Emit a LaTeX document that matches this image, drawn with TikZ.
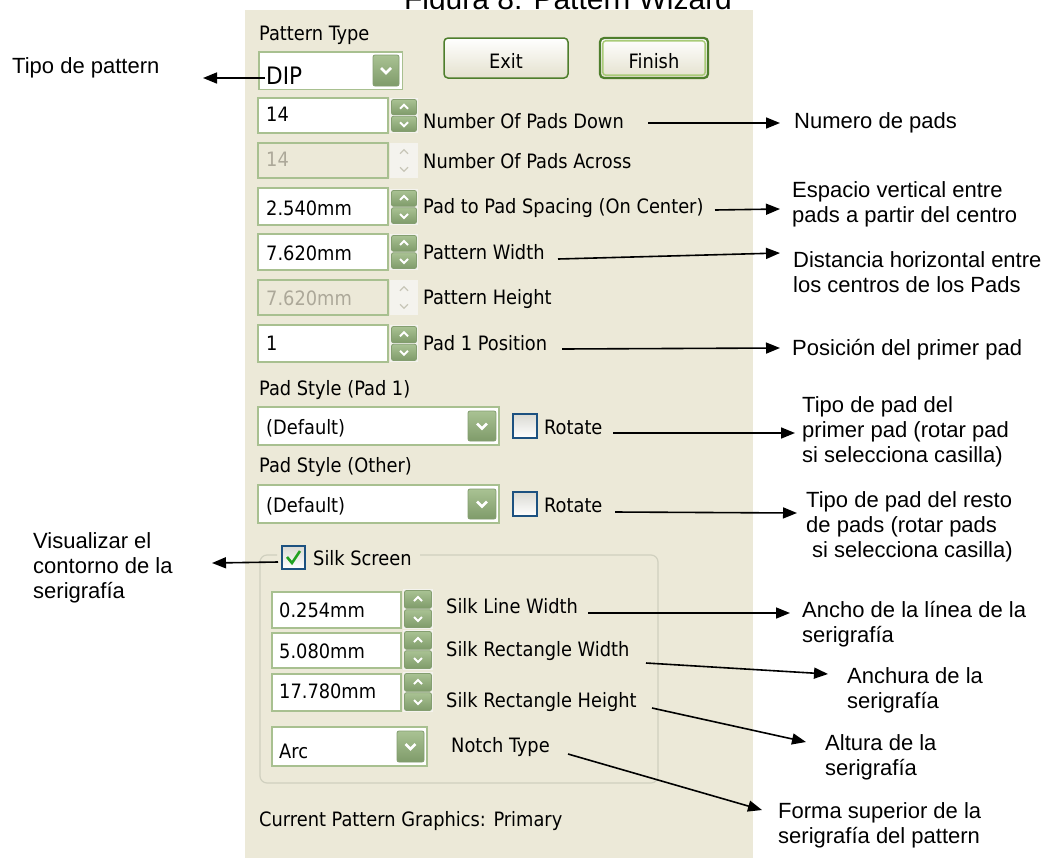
\documentclass[tikz,border=0pt]{standalone}
\usepackage{fontspec}
\setmainfont{Liberation Sans}
\newfontfamily\uifam{DejaVu Sans Condensed}
\usetikzlibrary{arrows.meta}
\definecolor{panel}{HTML}{ECE9D8}
\definecolor{boxgreen}{HTML}{A8C090}
\definecolor{spintop}{HTML}{A9C293}
\definecolor{spinbot}{HTML}{7F9B6A}
\definecolor{spinedge}{HTML}{849E70}
\definecolor{spinbg}{HTML}{F4F3EE}
\definecolor{distext}{HTML}{ACA899}
\definecolor{disarrow}{HTML}{C8C6B8}
\definecolor{btnborder}{HTML}{4E7E2C}
\definecolor{btnbot}{HTML}{E4E1CE}
\definecolor{finhl}{HTML}{A9CB78}
\definecolor{chkblue}{HTML}{1C5180}
\definecolor{chktop}{HTML}{DADAD3}
\definecolor{chkgreen}{HTML}{21A121}
\definecolor{grpline}{HTML}{D0D0BF}
\newcommand\annfont{\fontsize{22}{25}\selectfont}
\newcommand\uifont{\uifam\fontsize{19.8}{23}\selectfont}
\tikzset{
  ann/.style={font=\annfont, anchor=north west, inner sep=0pt, align=left},
  ui/.style={font=\uifont, anchor=base west, inner sep=0pt},
  uidis/.style={ui, text=distext},
  conn/.style={line width=1.6pt, -{Triangle[length=14pt,width=11pt]}},
  tbox/.style={draw=boxgreen, line width=1.5pt, fill=white},
  tboxd/.style={draw=boxgreen, line width=1.5pt, fill=panel},
  spinbtn/.style={draw=spinedge, line width=0.8pt, rounded corners=2pt, top color=spintop, bottom color=spinbot},
  btn/.style={draw=btnborder, line width=1.5pt, rounded corners=4pt, top color=white, bottom color=btnbot},
  chk/.style={draw=chkblue, line width=1.5pt, top color=chktop, bottom color=white},
  pics/spinner/.style n args={2}{code={
    \fill[spinbg] (0,0) rectangle (#1,#2);
    \draw[spinbtn] (1.5,1.5) rectangle (#1-1.5,#2/2-0.75);
    \draw[spinbtn] (1.5,#2/2+0.75) rectangle (#1-1.5,#2-1.5);
    \draw[white, line width=2pt] (#1/2-4,#2/4+2) -- (#1/2,#2/4-2) -- (#1/2+4,#2/4+2);
    \draw[white, line width=2pt] (#1/2-4,3*#2/4-2) -- (#1/2,3*#2/4+2) -- (#1/2+4,3*#2/4-2);
  }},
  pics/dspinner/.style n args={2}{code={
    \fill[spinbg] (0,0) rectangle (#1,#2);
    \draw[disarrow, line width=1.2pt] (#1/2-4,#2/4+2) -- (#1/2,#2/4-2) -- (#1/2+4,#2/4+2);
    \draw[disarrow, line width=1.2pt] (#1/2-4,3*#2/4-2) -- (#1/2,3*#2/4+2) -- (#1/2+4,3*#2/4-2);
  }},
  pics/ddbtn/.style n args={2}{code={
    \draw[spinbtn] (0,0) rectangle (#1,#2);
    \draw[white, line width=2.6pt] (#1/2-5,#2/2-2.5) -- (#1/2,#2/2+2.5) -- (#1/2+5,#2/2-2.5);
  }}
}
\begin{document}
\begin{tikzpicture}[x=1pt,y=-1pt]
\useasboundingbox (0,0) rectangle (1054,857);
\clip (0,0) rectangle (1054,857);
% title (cut at top, as in the reference)
\node[font=\fontsize{30}{34}\selectfont, anchor=base, inner sep=0pt] (title) at (568,9) {Figura 8: Pattern Wizard};
% dialog panel
\fill[panel] (245,10) rectangle (753,860);

% Pattern type
\node[ui] (ptype) at (259,40) {Pattern Type};
\draw[tbox] (258.75,51.75) rectangle (402.25,89.25);
\pic at (373,55) {ddbtn={26}{31}};
\node[ui, font=\uifam\fontsize{24}{28}\selectfont] (dip) at (266,84) {DIP};

% buttons
\draw[btn] (444,38) rectangle (568,78);
\node[ui, anchor=base] (exit) at (506,68) {Exit};
\draw[btn, line width=2.2pt] (600,38) rectangle (708,78);
\draw[finhl, line width=1.5pt, rounded corners=3pt] (602.8,40.8) rectangle (705.2,75.2);
\node[ui, anchor=base] (finish) at (654,68) {Finish};

% rows
\draw[tbox] (258,98) rectangle (388,133);
\pic at (390,98) {spinner={28}{35}};
\node[ui] (v1) at (266,121) {14};
\node[ui] (l1) at (423,128) {Number Of Pads Down};

\draw[tboxd] (258,143) rectangle (388,178);
\pic at (390,143) {dspinner={28}{35}};
\node[uidis] (v2) at (266,166) {14};
\node[ui] (l2) at (423,168) {Number Of Pads Across};

\draw[tbox] (258,188) rectangle (388,225);
\pic at (390,189) {spinner={28}{36}};
\node[ui] (v3) at (266,215) {2.540mm};
\node[ui] (l3) at (423,213) {Pad to Pad Spacing (On Center)};

\draw[tbox] (258,234) rectangle (388,270);
\pic at (390,234) {spinner={28}{36}};
\node[ui] (v4) at (266,260) {7.620mm};
\node[ui] (l4) at (423,259) {Pattern Width};

\draw[tboxd] (258,280) rectangle (388,315);
\pic at (390,280) {dspinner={28}{35}};
\node[uidis] (v5) at (266,305) {7.620mm};
\node[ui] (l5) at (423,304) {Pattern Height};

\draw[tbox] (258,325) rectangle (388,362);
\pic at (390,325) {spinner={28}{37}};
\node[ui] (v6) at (266,350) {1};
\node[ui] (l6) at (423,350) {Pad 1 Position};

% pad styles
\node[ui] (ps1) at (259,395) {Pad Style (Pad 1)};
\draw[tbox] (258,407) rectangle (499,445);
\pic at (468,411) {ddbtn={28}{30}};
\node[ui] (d1) at (266,434) {(Default)};
\draw[chk] (513,414) rectangle (537,438);
\node[ui] (r1) at (544,434) {Rotate};

\node[ui] (ps2) at (259,472) {Pad Style (Other)};
\draw[tbox] (258,485) rectangle (499,523);
\pic at (468,489) {ddbtn={28}{30}};
\node[ui] (d2) at (266,512) {(Default)};
\draw[chk] (513,492) rectangle (537,516);
\node[ui] (r2) at (544,512) {Rotate};

% silk screen group
\draw[grpline, line width=1.2pt, rounded corners=7pt] (420,555) -- (658,555) -- (658,783) -- (260,783) -- (260,555) -- (277,555);
\draw[chk] (282,546) rectangle (305,569);
\draw[chkgreen, line width=2.6pt] (287,557) -- (292,563) -- (300,551);
\node[ui] (ss) at (313,565) {Silk Screen};

\draw[tbox] (272,592) rectangle (401,628);
\pic at (403,589) {spinner={30}{40}};
\node[ui] (s1) at (279,617) {0.254mm};
\node[ui] (sl1) at (446,613) {Silk Line Width};

\draw[tbox] (272,633) rectangle (401,668);
\pic at (403,630) {spinner={30}{40}};
\node[ui] (s2) at (279,658) {5.080mm};
\node[ui] (sl2) at (446,656) {Silk Rectangle Width};

\draw[tbox] (272,674) rectangle (401,711);
\pic at (403,672) {spinner={30}{40}};
\node[ui] (s3) at (279,698) {17.780mm};
\node[ui] (sl3) at (446,707) {Silk Rectangle Height};

\draw[tbox] (272,727) rectangle (427,766);
\pic at (397,731) {ddbtn={27}{31}};
\node[ui] (s4) at (279,758) {Arc};
\node[ui] (sl4) at (451,752) {Notch Type};

\node[ui] (cur) at (259,826) {Current Pattern Graphics: Primary};

% annotations
\node[ann] (a1) at (12,55.5) {\strut Tipo de pattern};
\node[ann] (a2) at (794,110.5) {\strut Numero de pads};
\node[ann] (a3) at (792,179.5) {\strut Espacio vertical entre\\pads a partir del centro};
\node[ann] (a4) at (793,249.5) {\strut Distancia horizontal entre\\los centros de los Pads};
\node[ann] (a5) at (792,337.5) {\strut Posición del primer pad};
\node[ann] (a6) at (802,394.5) {\strut Tipo de pad del\\primer pad (rotar pad\\si selecciona casilla)};
\node[ann] (a7) at (806,489.5) {\strut Tipo de pad del resto\\de pads (rotar pads\\\hspace*{6pt}si selecciona casilla)};
\node[ann] (a8) at (33,530.5) {\strut Visualizar el\\contorno de la\\serigrafía};
\node[ann] (a9) at (802,599.5) {\strut Ancho de la línea de la\\serigrafía};
\node[ann] (a10) at (847,665.5) {\strut Anchura de la\\serigrafía};
\node[ann] (a11) at (825,732.5) {\strut Altura de la\\serigrafía};
\node[ann] (a12) at (778,800.5) {\strut Forma superior de la\\serigrafía del pattern};

% connector end points
\coordinate (c1s) at (265,78);  \coordinate (c1e) at (203,78);
\coordinate (c2s) at (648,123); \coordinate (c2e) at (780,123);
\coordinate (c3s) at (715,210); \coordinate (c3e) at (780,209);
\coordinate (c4s) at (558,259); \coordinate (c4e) at (780,253);
\coordinate (c5s) at (562,349); \coordinate (c5e) at (780,348);
\coordinate (c6s) at (613,433); \coordinate (c6e) at (795,433);
\coordinate (c7s) at (615,512); \coordinate (c7e) at (797,513);
\coordinate (c8s) at (278,562); \coordinate (c8e) at (212,563);
\coordinate (c9s) at (588,613); \coordinate (c9e) at (790,613);
\coordinate (c10s) at (646,663); \coordinate (c10e) at (828,674);
\coordinate (c11s) at (652,708); \coordinate (c11e) at (806,742);
\coordinate (c12s) at (568,754); \coordinate (c12e) at (762,810);
\foreach \i in {1,...,12} {\draw[conn] (c\i s) -- (c\i e);}
\end{tikzpicture}
\end{document}
